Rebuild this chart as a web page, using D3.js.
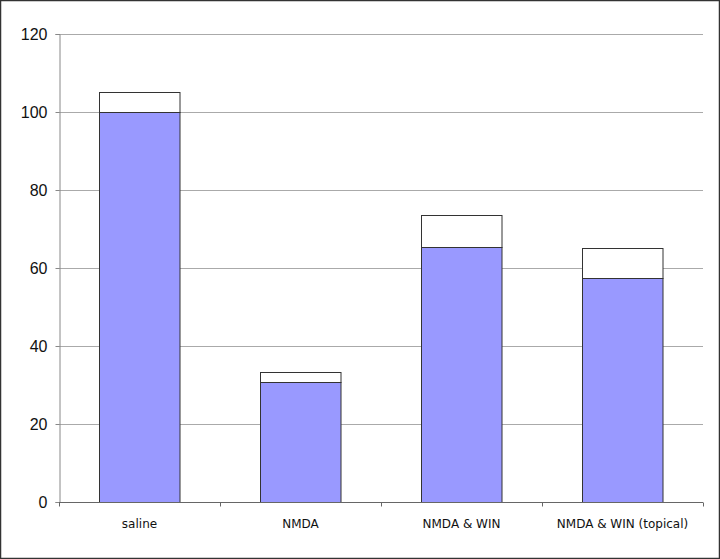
<!DOCTYPE html>
<html>
<head>
<meta charset="utf-8">
<script src="https://cdn.jsdelivr.net/npm/d3@7"></script>
<style>
  body { margin: 0; background: #fff; }
  svg text { font-family: "DejaVu Sans", Verdana, sans-serif; fill: #111; }
</style>
</head>
<body>
<div id="chart"></div>
<script>
/* data */
var categories = ["saline", "NMDA", "NMDA & WIN", "NMDA & WIN (topical)"];
var means = [100, 30.8, 65.3, 57.5];
var errors = [5.2, 2.6, 8.2, 7.7];
var yTicks = [0, 20, 40, 60, 80, 100, 120];

var width = 720, height = 559;
var margin = {left: 59, right: 17, top: 34, bottom: 57};

var svg = d3.select("#chart").append("svg")
  .attr("width", width).attr("height", height);

// outer frame
svg.append("rect")
  .attr("x", 0.5).attr("y", 0.5)
  .attr("width", width - 1).attr("height", height - 1)
  .attr("fill", "#fff").attr("stroke", "#333").attr("stroke-width", 1.5);

var x = d3.scaleBand()
  .domain(categories)
  .range([margin.left, width - margin.right])
  .paddingInner(0.5).paddingOuter(0.25);

var y = d3.scaleLinear()
  .domain([0, 120])
  .range([height - margin.bottom, margin.top]);

// gridlines
svg.append("g")
  .selectAll("line")
  .data(yTicks.filter(function(d){ return d > 0; }))
  .enter().append("line")
  .attr("x1", margin.left).attr("x2", width - margin.right)
  .attr("y1", function(d){ return Math.round(y(d)) + 0.5; })
  .attr("y2", function(d){ return Math.round(y(d)) + 0.5; })
  .attr("stroke", "#aaa").attr("stroke-width", 1);

var rows = categories.map(function(c, i){
  return {name: c, mean: means[i], err: errors[i]};
});

var bars = svg.append("g").selectAll("g")
  .data(rows).enter().append("g");

// error part (white, stacked on top)
bars.append("rect")
  .attr("x", function(d){ return Math.round(x(d.name)) + 0.5; })
  .attr("width", x.bandwidth())
  .attr("y", function(d){ return Math.round(y(d.mean + d.err)) + 0.5; })
  .attr("height", function(d){ return Math.round(y(d.mean)) - Math.round(y(d.mean + d.err)); })
  .attr("fill", "#fff").attr("stroke", "#333").attr("stroke-width", 1);

// mean part
bars.append("rect")
  .attr("x", function(d){ return Math.round(x(d.name)) + 0.5; })
  .attr("width", x.bandwidth())
  .attr("y", function(d){ return Math.round(y(d.mean)) + 0.5; })
  .attr("height", function(d){ return Math.round(y(0)) - Math.round(y(d.mean)); })
  .attr("fill", "#9999ff").attr("stroke", "#333").attr("stroke-width", 1);

// y axis
var yAxis = svg.append("g")
  .attr("transform", "translate(" + (margin.left + 0.5) + ",0)")
  .call(d3.axisLeft(y).tickValues(yTicks).tickSize(4).tickPadding(8));
yAxis.select(".domain").attr("stroke", "#888");
yAxis.selectAll(".tick line").attr("stroke", "#888");
yAxis.selectAll("text")
  .style("font-family", "'Liberation Sans', Arial, sans-serif")
  .style("font-size", "16px");

// x axis with ticks between categories
var xAxis = svg.append("g")
  .attr("transform", "translate(0," + (Math.round(y(0)) + 0.5) + ")");
xAxis.append("line")
  .attr("x1", margin.left).attr("x2", width - margin.right)
  .attr("stroke", "#666");
var bounds = d3.range(categories.length + 1).map(function(i){
  return margin.left + i * (width - margin.left - margin.right) / categories.length;
});
xAxis.selectAll(".sep").data(bounds).enter().append("line")
  .attr("x1", function(d){ return Math.round(d) + 0.5; })
  .attr("x2", function(d){ return Math.round(d) + 0.5; })
  .attr("y1", 0).attr("y2", 4)
  .attr("stroke", "#666");
xAxis.selectAll(".lbl").data(categories).enter().append("text")
  .attr("x", function(d){ return x(d) + x.bandwidth() / 2; })
  .attr("y", 25)
  .attr("text-anchor", "middle")
  .style("font-size", "12px")
  .text(function(d){ return d; });
</script>
</body>
</html>
